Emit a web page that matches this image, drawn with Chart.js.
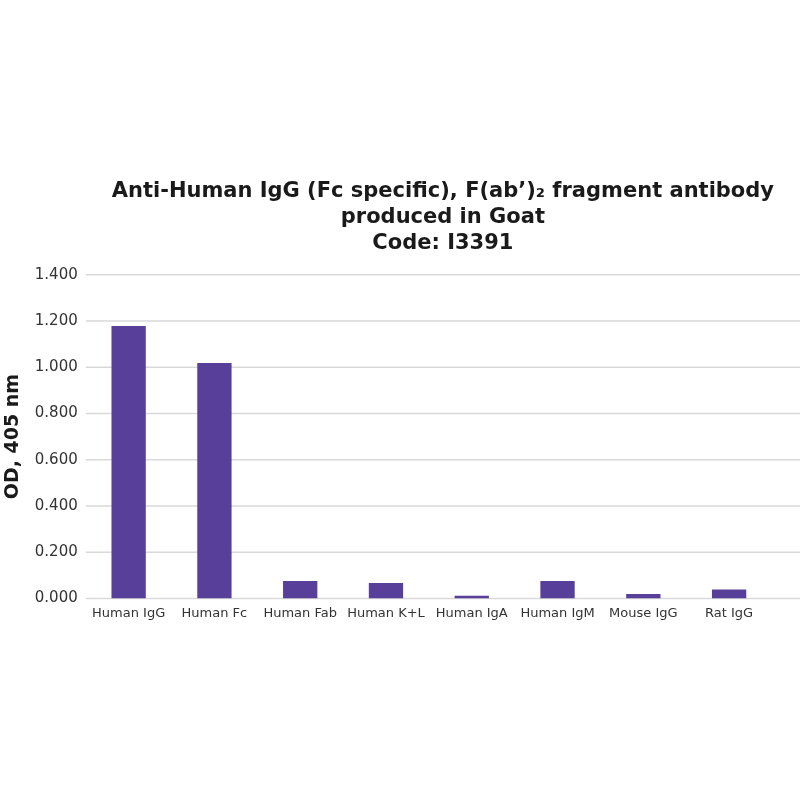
<!DOCTYPE html>
<html><head><meta charset="utf-8">
<script src="https://cdn.jsdelivr.net/npm/chart.js@4/dist/chart.umd.min.js"></script>
<style>
html,body{margin:0;padding:0;background:#fff;overflow:hidden;}
#wrap{width:800px;height:800px;position:relative;}
</style></head>
<body>
<div id="wrap"><canvas id="c"></canvas></div>
<script>
const categories = ["Human IgG","Human Fc","Human Fab","Human K+L","Human IgA","Human IgM","Mouse IgG","Rat IgG"];
const odValues = [1.178, 1.018, 0.075, 0.067, 0.011, 0.075, 0.019, 0.038];
const titleLines = ["Anti-Human IgG (Fc specific), F(ab\u2019)\u2082 fragment antibody","produced in Goat","Code: I3391"];
const yAxisTitle = "OD, 405 nm";

const FONT = "'DejaVu Sans', Verdana, sans-serif";
const gridColor = "#d9d9d9";

const fullGrid = {
  id: 'fullGrid',
  afterLayout(chart) {
    chart.titleBlock.left = chart.chartArea.left;
    chart.titleBlock.right = chart.width;
  },
  beforeDatasetsDraw(chart) {
    const y = chart.scales.y, ctx = chart.ctx, a = chart.chartArea;
    ctx.save();
    ctx.strokeStyle = gridColor;
    ctx.lineWidth = 1.5;
    y.ticks.forEach((t, i) => {
      const py = y.getPixelForTick(i);
      ctx.beginPath();
      ctx.moveTo(a.left, py);
      ctx.lineTo(chart.width, py);
      ctx.stroke();
    });
    ctx.restore();
  }
};

new Chart(document.getElementById('c'), {
  type: 'bar',
  data: {
    labels: categories,
    datasets: [{
      data: odValues,
      backgroundColor: '#58409a',
      borderWidth: 0,
      barPercentage: 0.4,
      categoryPercentage: 1.0
    }]
  },
  options: {
    responsive: true,
    maintainAspectRatio: false,
    animation: false,
    devicePixelRatio: 1,
    layout: { padding: { top: 170, right: 28, bottom: 172, left: 2 } },
    plugins: {
      legend: { display: false },
      tooltip: { enabled: false },
      title: {
        display: true,
        text: titleLines,
        color: '#1a1a1a',
        font: { family: FONT, size: 21, weight: 'bold', lineHeight: 1.25 },
        padding: { top: 8, bottom: 18 }
      }
    },
    scales: {
      x: {
        grid: { display: false, drawTicks: false },
        border: { display: false },
        ticks: { color: '#333', font: { family: FONT, size: 13 }, padding: 7, maxRotation: 0, autoSkip: false }
      },
      y: {
        min: 0, max: 1.4,
        ticks: { stepSize: 0.2, color: '#333', font: { family: FONT, size: 15 }, padding: 8,
          callback: v => Number(v).toFixed(3) },
        grid: { display: false, drawTicks: false },
        border: { display: false },
        title: { display: true, text: yAxisTitle, color: '#1a1a1a',
          font: { family: FONT, size: 19, weight: 'bold' }, padding: { top: 0, bottom: 2 } }
      }
    }
  },
  plugins: [fullGrid]
});
</script>
</body></html>
